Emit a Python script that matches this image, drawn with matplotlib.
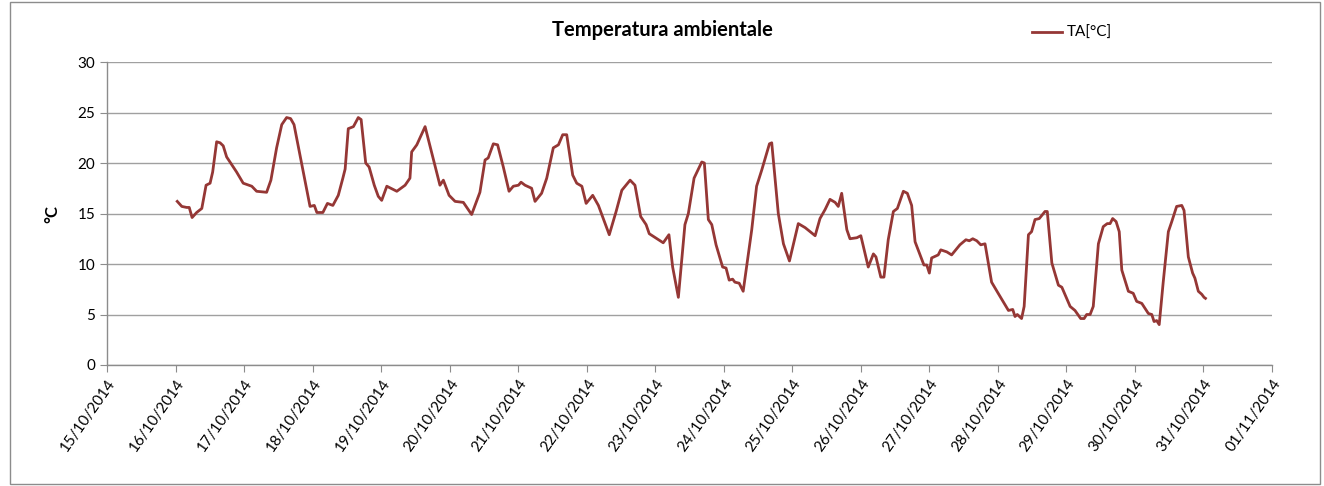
import matplotlib
matplotlib.use("Agg")
import matplotlib.pyplot as plt
import matplotlib.dates as mdates
from matplotlib.patches import Rectangle
from datetime import datetime, timedelta
import numpy as np

plt.rcParams['font.family'] = ['Lato', 'DejaVu Sans']

title = "Temperatura ambientale"
series_name = "TA[°C]"
y_label = "°C"
start = datetime(2014, 10, 16)

# hours since 16/10/2014 00:00
hours = [0.6, 2.2, 3.9, 4.8, 5.8, 7.4, 9.2, 10.7, 12.1, 13.0, 14.4, 15.6, 16.7, 17.9,
         21.4, 23.7, 26.7, 28.4, 31.9, 33.4, 35.4, 37.2, 38.9, 40.3, 41.5, 47.1, 48.6,
         49.5, 51.6, 53.2, 55.1, 57.0, 58.6, 59.4, 60.5, 62.3, 64.0, 65.0, 66.6, 67.8,
         69.6, 71.0, 72.2, 74.0, 77.5, 80.4, 82.1, 82.7, 84.5, 87.4, 89.9, 92.6, 93.8,
         95.8, 97.9, 100.8, 103.7, 106.6, 108.4, 109.5, 111.3, 112.8, 114.8, 116.8,
         118.3, 120.1, 121.0, 122.4, 124.7, 125.9, 128.2, 130.0, 132.3, 134.1, 135.6,
         137.0, 139.1, 140.5, 142.3, 143.8, 146.1, 148.1, 151.9, 154.3, 156.3, 159.2,
         160.9, 162.9, 164.8, 165.9, 170.8, 172.8, 174.1, 176.1, 178.4, 179.6, 181.6,
         184.3, 185.2, 186.6, 187.8, 189.3, 191.6, 192.8, 193.9, 195.1, 195.9, 197.4,
         198.8, 201.8, 203.5, 205.3, 208.0, 208.8, 211.1, 212.9, 215.0, 218.1, 220.5,
         224.0, 225.7, 227.5, 229.2, 231.0, 232.1, 233.3, 235.1, 236.2, 238.6, 240.0,
         242.6, 244.4, 245.3, 247.0, 248.1, 249.6, 251.4, 252.8, 254.9, 256.3, 257.8,
         259.0, 262.1, 263.1, 264.0, 264.8, 267.1, 268.0, 270.1, 271.8, 274.7, 276.8,
         278.0, 279.2, 280.6, 282.0, 283.5, 285.8, 288.1, 291.7, 293.2, 294.0, 294.8,
         296.3, 297.2, 298.7, 299.8, 301.0, 302.5, 304.5, 305.3, 306.9, 309.2, 310.4,
         313.3, 315.0, 317.0, 318.2, 319.1, 320.3, 321.4, 323.2, 324.9, 326.3, 327.3,
         328.2, 329.4, 330.5, 331.4, 332.5, 333.7, 335.4, 336.6, 338.4, 340.7, 341.9,
         342.7, 343.6, 344.5, 345.9, 347.7, 348.9, 350.6, 352.4, 353.2, 354.7, 356.2,
         357.0, 358.2, 359.4, 360.2, 360.7]
temps = [16.2, 15.7, 15.6, 15.6, 14.6, 15.1, 15.5, 17.8, 18.0, 19.1, 22.1, 22.0, 21.7, 20.6,
         19.1, 18.0, 17.7, 17.2, 17.1, 18.3, 21.5, 23.8, 24.5, 24.4, 23.8, 15.7, 15.8,
         15.1, 15.1, 16.0, 15.8, 16.8, 18.5, 19.4, 23.4, 23.6, 24.5, 24.3, 20.0, 19.6,
         17.8, 16.7, 16.3, 17.7, 17.2, 17.8, 18.5, 21.1, 21.8, 23.6, 20.8, 17.8, 18.3,
         16.8, 16.2, 16.1, 14.9, 17.1, 20.3, 20.5, 21.9, 21.8, 19.6, 17.2,
         17.7, 17.8, 18.1, 17.8, 17.5, 16.2, 17.0, 18.5, 21.5, 21.8, 22.8,
         22.8, 18.8, 18.0, 17.7, 16.0, 16.8, 15.8, 12.9, 15.2, 17.3, 18.3,
         17.8, 14.7, 13.9, 13.0, 12.1, 12.9, 9.7, 6.7, 13.9, 15.0, 18.5,
         20.1, 20.0, 14.4, 13.9, 11.9, 9.7, 9.6, 8.4, 8.5, 8.2, 8.1,
         7.3, 13.4, 17.7, 19.3, 21.9, 22.0, 15.0, 12.0, 10.3, 14.0, 13.6,
         12.8, 14.5, 15.4, 16.4, 16.1, 15.7, 17.0, 13.4, 12.5, 12.6, 12.8,
         9.7, 11.0, 10.7, 8.7, 8.7, 12.4, 15.2, 15.5, 17.2, 17.0, 15.8,
         12.2, 9.9, 9.9, 9.1, 10.6, 10.9, 11.4, 11.2, 10.9, 11.9, 12.4,
         12.3, 12.5, 12.3, 11.9, 12.0, 8.2, 7.1, 5.4, 5.5, 4.8, 5.0,
         4.6, 5.8, 12.9, 13.2, 14.4, 14.5, 15.2, 15.2, 10.1, 7.9, 7.7,
         5.8, 5.4, 4.6, 4.6, 5.0, 5.0, 5.8, 12.0, 13.7, 14.0, 14.0,
         14.5, 14.2, 13.2, 9.4, 8.4, 7.3, 7.1, 6.3, 6.1, 5.1, 5.0,
         4.3, 4.4, 4.0, 8.2, 13.2, 14.2, 15.7, 15.8, 15.3, 10.7, 9.1,
         8.6, 7.3, 7.0, 6.7, 6.6]

times = [start + timedelta(hours=h) for h in hours]

W, H = 1324, 486
fig = plt.figure(figsize=(W / 100, H / 100), dpi=100)
fig.patch.set_facecolor('white')
fig.patches.append(Rectangle((10 / W, 2 / H), 1310 / W, 482 / H, transform=fig.transFigure,
                             fill=False, edgecolor='#8c8c8c', linewidth=1.0))

ax = fig.add_axes([107 / W, 1 - 365 / H, (1272 - 107) / W, (365 - 62) / H])
line, = ax.plot(times, temps, color='#953735', linewidth=2.0, label=series_name)

ax.set_xlim(datetime(2014, 10, 15), datetime(2014, 11, 1))
ax.set_ylim(0, 30)
ax.set_yticks(np.arange(0, 31, 5))
ax.xaxis.set_major_locator(mdates.DayLocator())
ax.xaxis.set_major_formatter(mdates.DateFormatter('%d/%m/%Y'))
ax.grid(axis='y', color='#a0a0a0', linewidth=1.0)
ax.set_axisbelow(True)
for s in ['top', 'right']:
    ax.spines[s].set_visible(False)
for s in ['left', 'bottom']:
    ax.spines[s].set_color('#8c8c8c')
    ax.spines[s].set_linewidth(1.0)
ax.tick_params(axis='both', colors='#8c8c8c', labelcolor='black', labelsize=11, length=5,
               direction='out')
plt.setp(ax.get_xticklabels(), rotation=55, ha='right', rotation_mode='anchor')
ax.set_ylabel(y_label, fontsize=12, fontweight='bold', labelpad=12)

fig.text(662 / W, 1 - 30 / H, title, ha='center', va='center', fontsize=14.5, fontweight='bold')
fig.legend(handles=[line], loc='center left', bbox_to_anchor=(1018 / W, 1 - 33 / H),
           frameon=False, fontsize=11, handlelength=2.0, handletextpad=0.3)

fig.savefig('out.png', dpi=100)
